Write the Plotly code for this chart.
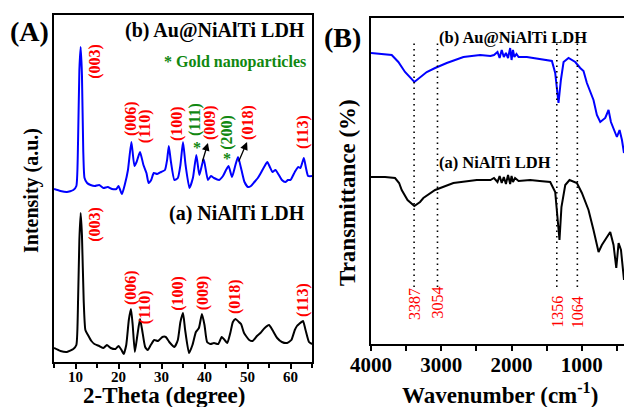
import plotly.graph_objects as go

# ---------------- Panel A: XRD ----------------
xrd_theta_b = [5.0, 6.5, 8.0, 9.5, 10.2, 10.6, 10.9, 11.2, 11.5, 11.8, 12.1, 12.7, 13.5, 14.5, 15.5, 16.5,
               17.5, 18.5, 19.5, 20.0, 20.8, 21.5, 22.2, 23.0, 23.7, 24.2, 25.0, 25.8, 26.5, 27.0, 27.6,
               28.2, 29.0, 29.9, 30.8, 31.3, 31.7, 32.2, 33.0, 33.8, 34.4, 35.0, 35.6, 36.5, 37.3, 38.1,
               38.8, 39.8, 40.8, 41.5, 42.2, 43.4, 44.3, 45.0, 45.6, 46.4, 47.2, 47.8, 48.6, 49.3, 50.1,
               50.8, 51.6, 52.4, 53.1, 54.0, 54.6, 55.2, 55.8, 56.5, 57.3, 58.0, 58.8, 59.4, 60.0, 61.0,
               61.8, 62.3, 63.1, 63.6, 64.1, 65.0]
xrd_int_b = [173, 171, 170, 172, 176, 222, 292, 315, 287, 212, 184, 179, 177, 176, 177, 174,
             175, 173, 173, 176, 168, 178, 192, 220, 196, 200, 210, 197, 189, 179, 182,
             189, 188, 190, 192, 202, 216, 200, 182, 184, 197, 220, 197, 174, 184, 207,
             187, 203, 182, 186, 184, 182, 186, 192, 196, 185, 197, 205, 192, 180, 175,
             176, 180, 184, 189, 196, 200, 195, 190, 192, 187, 182, 180, 182, 182, 190,
             195, 194, 204, 194, 186, 186]

xrd_theta_a = [5.0, 6.5, 8.0, 9.5, 10.2, 10.6, 10.9, 11.2, 11.5, 11.9, 12.3, 12.9, 13.7, 14.4, 15.5, 16.5,
               17.3, 18.2, 19.3, 20.0, 20.7, 21.2, 21.8, 22.4, 22.9, 23.3, 23.8, 24.4, 25.0, 25.5, 26.2,
               26.8, 27.5, 28.3, 29.2, 30.2, 31.0, 31.8, 33.0, 33.8, 34.4, 35.0, 35.5, 36.4, 37.2, 38.0,
               38.7, 39.4, 40.0, 40.6, 41.4, 42.2, 43.2, 44.0, 44.5, 45.3, 46.0, 46.6, 47.2, 48.0, 48.5,
               49.2, 50.4, 51.2, 52.2, 53.0, 54.0, 55.0, 55.8, 56.9, 58.0, 59.2, 60.2, 61.0, 61.5, 62.0,
               62.9, 63.5, 64.3, 65.0]
xrd_int_a = [14, 11, 10, 13, 17, 62, 122, 149, 127, 62, 32, 27, 21, 18, 16, 14,
             17, 14, 13, 16, 12, 8, 17, 42, 53, 37, 10, 27, 43, 32, 15,
             12, 17, 22, 21, 25, 25, 20, 15, 22, 40, 49, 32, 9, 17, 30,
             34, 48, 37, 20, 18, 19, 18, 25, 23, 19, 29, 40, 43, 40, 38,
             29, 22, 21, 26, 29, 34, 37, 32, 24, 20, 19, 22, 32, 36, 38,
             41, 32, 20, 18]

# peak labels (hkl) : position (2-theta) and label height (a.u.)
hkl_b_text = ["(003)", "(006)", "(110)", "(100)", "(009)", "(018)", "(113)"]
hkl_b_x = [14.5, 22.9, 26.2, 33.6, 41.3, 50.1, 62.9]
hkl_b_y = [301, 244, 236, 239, 239, 240, 230]
au_text = ["(111)", "(200)"]
au_x = [37.8, 45.2]
au_y = [242, 230]
star_x = [38.3, 45.2]
star_y = [215, 204]
arrow_tail_x = [39.4, 47.8]
arrow_tail_y = [199, 199]
arrow_head_x = [40.8, 49.9]
arrow_head_y = [219, 220]

hkl_a_text = ["(003)", "(006)", "(110)", "(100)", "(009)", "(018)", "(113)"]
hkl_a_x = [14.5, 22.9, 26.2, 33.8, 39.7, 47.1, 62.9]
hkl_a_y = [138, 75, 55, 69, 69, 65, 62]

xrd_ticks = [10, 20, 30, 40, 50, 60]

# ---------------- Panel B: FTIR ----------------
ir_wn_b = [4000, 3825, 3705, 3611, 3516, 3383, 3302, 3207, 3088, 2922, 2685, 2447, 2300, 2250,
           2200, 2170, 2140, 2110, 2080, 2050, 2020, 2000, 1980, 1960, 1930, 1900, 1782, 1600,
           1497, 1426, 1379, 1332, 1298, 1260, 1189, 1094, 1023, 976, 928, 834, 786, 738, 667,
           620, 586, 549, 501, 463, 429, 400]
ir_t_b = [291, 290, 289, 282, 272, 262, 267, 272, 276, 281, 287, 289, 288, 289,
          292, 286, 294, 287, 291, 286, 296, 284, 294, 287, 290, 287, 287, 285,
          284, 283, 271, 241, 264, 282, 286, 282, 276, 273, 261, 244, 229, 222, 226,
          234, 222, 216, 207, 214, 204, 191]

ir_wn_a = [4000, 3800, 3658, 3600, 3563, 3480, 3383, 3302, 3255, 3180, 3088, 2828, 2495, 2300,
           2250, 2200, 2170, 2140, 2110, 2080, 2050, 2020, 2000, 1980, 1950, 1900, 1735, 1600,
           1450, 1379, 1318, 1290, 1236, 1175, 1070, 999, 905, 834, 762, 715, 644, 596, 549,
           510, 477, 443, 400]
ir_t_a = [167, 167, 166, 161, 154, 144, 138, 142, 146, 150, 154, 161, 164, 164,
          166, 162, 168, 161, 167, 160, 169, 160, 168, 162, 166, 163, 164, 163,
          162, 152, 104, 137, 159, 164, 161, 151, 134, 114, 92, 99, 107, 112, 99,
          76, 101, 94, 64]

ir_marks = [3387, 3054, 1356, 1064]
ir_mark_text = ["3387", "3054", "1356", "1064"]
ir_mark_top = 302
ir_mark_bottom = 57
ir_label_y = [40, 42, 32, 32]
ir_ticks = [4000, 3000, 2000, 1000]

# ---------------- figure ----------------
W, H = 624, 407
SERIF = "Liberation Serif"
BLUE = "#0000FF"
RED = "#FF0000"
GREEN = "#118811"


def px(xp):
    return xp / W


def py(yp):
    return 1 - yp / H


fig = go.Figure()
fig.add_trace(go.Scatter(x=xrd_theta_b, y=xrd_int_b, mode="lines",
                         line=dict(color=BLUE, width=2, shape="spline", smoothing=0.5),
                         xaxis="x", yaxis="y", showlegend=False))
fig.add_trace(go.Scatter(x=xrd_theta_a, y=xrd_int_a, mode="lines",
                         line=dict(color="black", width=2, shape="spline", smoothing=0.5),
                         xaxis="x", yaxis="y", showlegend=False))
fig.add_trace(go.Scatter(x=ir_wn_b, y=ir_t_b, mode="lines",
                         line=dict(color=BLUE, width=2),
                         xaxis="x2", yaxis="y2", showlegend=False))
fig.add_trace(go.Scatter(x=ir_wn_a, y=ir_t_a, mode="lines",
                         line=dict(color="black", width=2),
                         xaxis="x2", yaxis="y2", showlegend=False))

shapes = []
for wn in ir_marks:
    shapes.append(dict(type="line", xref="x2", yref="y2", x0=wn, x1=wn,
                       y0=ir_mark_bottom, y1=ir_mark_top,
                       line=dict(color="black", width=1.6, dash="1.5px,4px")))

ann = []


def label(x, y, text, size, color="black", angle=0, weight="bold", xref="paper", yref="paper"):
    ann.append(dict(x=x, y=y, xref=xref, yref=yref, text=text, showarrow=False,
                    textangle=angle, xanchor="center", yanchor="middle",
                    font=dict(family=SERIF, size=size, color=color, weight=weight)))


for t, x, y in zip(hkl_b_text, hkl_b_x, hkl_b_y):
    label(x, y, t, 16, RED, -90, xref="x", yref="y")
for t, x, y in zip(au_text, au_x, au_y):
    label(x, y, t, 16, GREEN, -90, xref="x", yref="y")
for x, y in zip(star_x, star_y):
    label(x, y, "*", 16, GREEN, 0, xref="x", yref="y")
for t, x, y in zip(hkl_a_text, hkl_a_x, hkl_a_y):
    label(x, y, t, 16, RED, -90, xref="x", yref="y")
for tx, ty, hx, hy in zip(arrow_tail_x, arrow_tail_y, arrow_head_x, arrow_head_y):
    ann.append(dict(x=hx, y=hy, ax=tx, ay=ty, xref="x", yref="y", axref="x", ayref="y",
                    text="", showarrow=True, arrowhead=2, arrowsize=1.2, arrowwidth=1.3,
                    arrowcolor="black"))
for t, x, y in zip(ir_mark_text, ir_marks, ir_label_y):
    label(x, y, t, 16, RED, -90, weight="normal", xref="x2", yref="y2")

# panel text
label(px(215), py(30), "(b) Au@NiAlTi LDH", 20)
label(px(235), py(62), "* Gold nanoparticles", 16, GREEN)
label(px(237), py(213), "(a) NiAlTi LDH", 20)
label(px(513), py(37), "(b) Au@NiAlTi LDH", 16.5)
label(px(495), py(163), "(a) NiAlTi LDH", 16.5)
label(px(29), py(32), "(A)", 28)
label(px(342), py(37), "(B)", 28)
label(px(31), py(191), "Intensity (a.u.)", 20, angle=-90)
label(px(164), py(395), "2-Theta (degree)", 23)
label(px(347), py(193), "Transmittance (%)", 23, angle=-90)
label(px(500), py(393), "Wavenumber (cm<sup>-1</sup>)", 23)

axis_common = dict(showgrid=False, zeroline=False, linecolor="black", linewidth=2,
                   automargin=False)

fig.update_layout(
    template="none",
    width=W, height=H,
    margin=dict(l=0, r=0, t=0, b=0, pad=0, autoexpand=False),
    paper_bgcolor="white", plot_bgcolor="white",
    shapes=shapes, annotations=ann,
    xaxis=dict(domain=[px(54), px(312)], range=[5, 65], anchor="y",
               tickvals=xrd_ticks, ticks="outside", ticklen=5, tickwidth=1.5, tickcolor="black",
               minor=dict(tickvals=[5, 15, 25, 35, 45, 55, 65], ticks="outside", ticklen=4,
                          tickwidth=1.5, tickcolor="black"),
               showline=True, mirror=True, ticklabelstandoff=-5,
               tickfont=dict(family=SERIF, size=15, color="black", weight="bold"),
               **axis_common),
    yaxis=dict(domain=[py(362), py(15)], range=[0, 347], anchor="x",
               showticklabels=False, ticks="", showline=True, mirror=True, **axis_common),
    xaxis2=dict(domain=[px(371), 1], range=[4000, 400], anchor="y2",
                tickvals=ir_ticks, ticks="outside", ticklen=5, tickwidth=1.5, tickcolor="black",
                minor=dict(tickvals=[3500, 2500, 1500, 500], ticks="outside", ticklen=5,
                           tickwidth=1.5, tickcolor="black"),
                showline=True, mirror=True, ticklabelstandoff=-4,
                tickfont=dict(family=SERIF, size=21, color="black", weight="bold"),
                **axis_common),
    yaxis2=dict(domain=[py(344), py(18)], range=[0, 326], anchor="x2",
                showticklabels=False, ticks="", showline=True, mirror=False, **axis_common),
)

fig.write_html("out.html", config={"displayModeBar": False},
               post_script="document.body.style.margin='0px';document.body.style.overflow='hidden';")
